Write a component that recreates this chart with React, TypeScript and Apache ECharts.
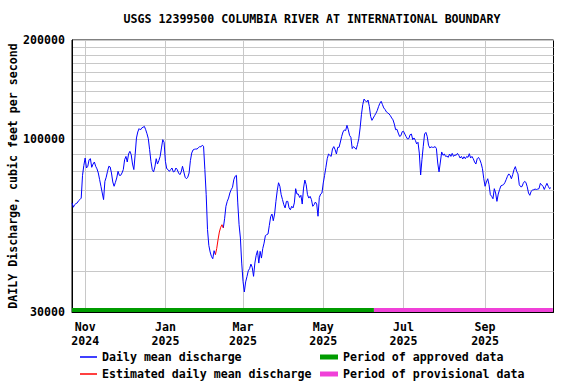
import React, { useEffect, useRef } from 'react';
import * as echarts from 'echarts';

const chartTitle = 'USGS 12399500 COLUMBIA RIVER AT INTERNATIONAL BOUNDARY';
const yAxisName = 'DAILY Discharge, cubic feet per second';

// Daily mean discharge (cfs), first day = 2024-10-22
const flowOct2024 = [64200, 62300, 63400, 63900, 64200, 65200, 65700, 66400, 77800, 83400];
const flowNov2024 = [87800, 81900, 82900, 86800, 87400, 82300, 84200, 85400, 82900, 81400, 79100, 75500, 72100, 68800, 65700, 74600, 76800, 80000, 82900, 82500, 79100, 74300, 72100, 74100, 76400, 80000, 77800, 77800, 79100, 81000];
const flowDec2024 = [86800, 88800, 85400, 90300, 92000, 89900, 84200, 81000, 89900, 101000, 105300, 107800, 106800, 108300, 108800, 109500, 107000, 104000, 100500, 93100, 85800, 81000, 79700, 82500, 87400, 84200, 86200, 88800, 94200, 99800, 98000];
const flowJan2025 = [85800, 81500, 81000, 80000, 81000, 81900, 79700, 80000, 81900, 81000, 79100, 78200, 79700, 82900, 79700, 76800, 76000, 76800, 79100, 86200, 90900, 92900, 93300, 93500, 93500, 94200, 95100, 94900, 96000, 95300, 81000];
const flowFeb2025 = [68000, 53300, 47750, 45600, 44200, 43500, 46000, 44750, 46700, 49650, 52400, 54150, 55150, 53900, 57500, 62700, 64900, 66400, 68800, 70400, 71600, 75500, 77300, 77800, 64200, 55150, 50250, 42200];
const flowMar2025 = [37150, 34500, 37000, 38400, 40000, 40600, 41900, 40950, 38470, 42200, 44550, 46000, 42200, 45800, 43700, 46700, 48500, 51100, 51450, 51700, 54900, 58300, 59400, 56700, 59400, 64900, 69900, 73900, 72100, 68000, 65700];
const flowApr2025 = [63400, 62000, 64900, 64900, 62000, 61200, 62700, 62000, 64200, 70900, 68300, 68300, 66700, 67700, 63700, 71200, 75300, 72900, 68000, 66400, 67200, 65700, 62700, 63400, 64600, 63700, 58500, 66700, 68300, 68800];
const flowMay2025 = [73800, 77800, 82300, 87400, 90300, 89500, 88800, 93500, 95100, 93100, 90300, 94600, 94600, 98200, 102100, 105300, 106800, 106300, 110300, 107000, 102800, 101400, 93800, 95100, 94200, 93300, 96400, 100500, 108300, 118800, 127400];
const flowJun2025 = [132500, 130900, 129700, 131600, 125900, 117400, 114200, 116100, 118000, 119900, 122200, 125600, 128600, 130400, 127400, 124500, 123100, 121100, 120300, 119400, 118000, 116100, 114600, 111300, 107000, 107300, 104500, 102100, 102600, 105500];
const flowJul2025 = [105800, 103800, 101900, 100300, 100500, 103300, 103800, 99800, 101000, 99300, 96900, 98000, 90900, 78000, 86800, 95300, 103800, 105000, 102100, 96000, 94200, 94900, 94600, 94600, 95100, 93800, 84800, 79700, 85400, 91600, 89500];
const flowAug2025 = [90300, 88800, 89000, 88200, 90300, 88800, 90700, 88800, 89700, 89500, 90700, 89500, 87800, 88800, 87200, 88600, 87400, 88800, 88200, 90500, 87800, 88800, 87400, 85400, 84200, 87400, 88200, 86800, 84600, 81500, 76000];
const flowSep2025 = [72100, 74300, 76000, 72900, 68000, 67200, 66100, 70900, 68800, 64900, 68300, 70400, 72300, 72600, 72900, 73900, 75500, 77300, 78600, 77800, 76000, 78200, 81000, 82700, 80000, 78600, 72900, 71900, 71900, 73600];
const flowOct2025 = [74600, 74100, 71900, 68800, 67700, 69600, 70200, 70400, 70700, 70500, 70700, 70900, 73600, 72800, 72100, 70500, 72100, 73600, 72100, 70900, 71400];

// Estimated values: day indexes (from first day) drawn in red
const estimatedFirstDay = 109;
const estimatedLastDay = 115;

const yLabelValues = [30000, 100000, 200000];
const yGridValues = [30000, 40000, 50000, 60000, 70000, 80000, 90000, 100000, 110000, 120000, 130000, 140000, 150000, 160000, 170000, 180000, 190000, 200000];

const xTickDates: number[][] = [[2024, 10, 1], [2025, 0, 1], [2025, 2, 1], [2025, 4, 1], [2025, 6, 1], [2025, 8, 1]];
const xTickLabels = ['Nov\n2024', 'Jan\n2025', 'Mar\n2025', 'May\n2025', 'Jul\n2025', 'Sep\n2025'];

const approvedPeriod: number[][] = [[2024, 9, 22, 0], [2025, 5, 8, 12]];
const provisionalPeriod: number[][] = [[2025, 5, 8, 12], [2025, 9, 22, 12]];

const legendNames = ['Daily mean discharge', 'Estimated daily mean discharge', 'Period of approved data', 'Period of provisional data'];

const FONT = "'DejaVu Sans Mono', 'Liberation Mono', monospace";

const toTime = (p: number[]) => new Date(p[0], p[1], p[2], p[3] || 0).getTime();

export default function App() {
  const ref = useRef<HTMLDivElement>(null);

  useEffect(() => {
    if (!ref.current) return;
    const chart = echarts.init(ref.current, undefined, { renderer: 'svg' });

    const flow = [
      ...flowOct2024, ...flowNov2024, ...flowDec2024, ...flowJan2025, ...flowFeb2025, ...flowMar2025,
      ...flowApr2025, ...flowMay2025, ...flowJun2025, ...flowJul2025, ...flowAug2025, ...flowSep2025, ...flowOct2025,
    ];
    const dayTime = (i: number) => new Date(2024, 9, 22 + i).getTime();
    const blueData = flow.map((v, i) => [dayTime(i), i > estimatedFirstDay && i < estimatedLastDay ? null : v]);
    const redData: any[] = [];
    flow.forEach((v, i) => {
      if (i >= estimatedFirstDay && i <= estimatedLastDay) redData.push([dayTime(i), v]);
    });

    const tickTimes = xTickDates.map(toTime);
    const statusLevel = 30430;
    const legendText = { fontFamily: FONT, fontSize: 11.6, fontWeight: 'bold', color: '#000', lineHeight: 14 };

    const option: any = {
      animation: false,
      backgroundColor: '#ffffff',
      textStyle: { fontFamily: FONT },
      graphic: [
        {
          type: 'text',
          x: 312,
          y: 19,
          style: {
            text: chartTitle,
            fill: '#000',
            font: `bold 11.6px ${FONT}`,
            textAlign: 'center',
            textVerticalAlign: 'middle',
          },
        },
      ],
      legend: [
        {
          orient: 'vertical',
          left: 80,
          top: 350,
          padding: 0,
          itemWidth: 17,
          itemHeight: 1.5,
          itemGap: 3,
          icon: 'rect',
          selectedMode: false,
          data: [legendNames[0], legendNames[1]],
          textStyle: legendText,
        },
        {
          orient: 'vertical',
          left: 320,
          top: 350,
          padding: 0,
          itemWidth: 18,
          itemHeight: 5,
          itemGap: 3,
          icon: 'rect',
          selectedMode: false,
          data: [legendNames[2], legendNames[3]],
          textStyle: legendText,
        },
      ],
      grid: {
        left: 72,
        top: 40,
        width: 481.5,
        height: 272,
        show: true,
        borderColor: '#000',
        borderWidth: 1,
        containLabel: false,
        outerBoundsMode: 'none',
      },
      xAxis: {
        type: 'value',
        min: toTime([2024, 9, 22]),
        max: toTime([2025, 9, 23]),
        axisLine: { show: true, onZero: false, lineStyle: { color: '#000', width: 1 } },
        axisTick: { show: false, customValues: tickTimes },
        splitLine: { show: true, lineStyle: { color: '#c8c8c8', width: 1 } },
        axisLabel: {
          customValues: tickTimes,
          margin: 8,
          color: '#000',
          fontFamily: FONT,
          fontSize: 11.6,
          fontWeight: 'bold',
          lineHeight: 14,
          align: 'center',
          showMinLabel: true,
          showMaxLabel: true,
          formatter: (val: number) => {
            let best = 0;
            let bestDiff = Infinity;
            tickTimes.forEach((t, i) => {
              const d = Math.abs(t - val);
              if (d < bestDiff) { bestDiff = d; best = i; }
            });
            return xTickLabels[best];
          },
        },
      },
      yAxis: {
        type: 'log',
        logBase: 10,
        min: 30000,
        max: 200000,
        name: yAxisName,
        nameLocation: 'middle',
        nameGap: 53,
        nameMoveOverlap: false,
        nameTextStyle: { fontFamily: FONT, fontSize: 11.6, fontWeight: 'bold', color: '#000' },
        axisLine: { show: true, lineStyle: { color: '#000', width: 1 } },
        axisTick: { show: false, customValues: yGridValues },
        splitLine: { show: true, lineStyle: { color: '#c8c8c8', width: 1 } },
        axisLabel: {
          customValues: yLabelValues,
          margin: 7,
          color: '#000',
          fontFamily: FONT,
          fontSize: 11.6,
          fontWeight: 'bold',
          formatter: (v: number) => String(Math.round(v)),
        },
      },
      series: [
        {
          name: legendNames[0],
          type: 'line',
          data: blueData,
          color: '#0000ff',
          showSymbol: false,
          symbol: 'none',
          connectNulls: false,
          lineStyle: { color: '#0000ff', width: 1 },
          z: 5,
        },
        {
          name: legendNames[1],
          type: 'line',
          data: redData,
          color: '#ff0000',
          showSymbol: false,
          symbol: 'none',
          lineStyle: { color: '#ff0000', width: 1 },
          z: 6,
        },
        {
          name: legendNames[2],
          type: 'line',
          data: approvedPeriod.map((p) => [toTime(p), statusLevel]),
          color: '#009c00',
          showSymbol: false,
          symbol: 'none',
          lineStyle: { color: '#009c00', width: 4, cap: 'butt' },
          z: 4,
        },
        {
          name: legendNames[3],
          type: 'line',
          data: provisionalPeriod.map((p) => [toTime(p), statusLevel]),
          color: '#f040d8',
          showSymbol: false,
          symbol: 'none',
          lineStyle: { color: '#f040d8', width: 4, cap: 'butt' },
          z: 4,
        },
      ],
    };

    chart.setOption(option);
    return () => chart.dispose();
  }, []);

  return <div ref={ref} style={{ width: 576, height: 384, position: 'absolute', left: 0, top: 0 }} />;
}
